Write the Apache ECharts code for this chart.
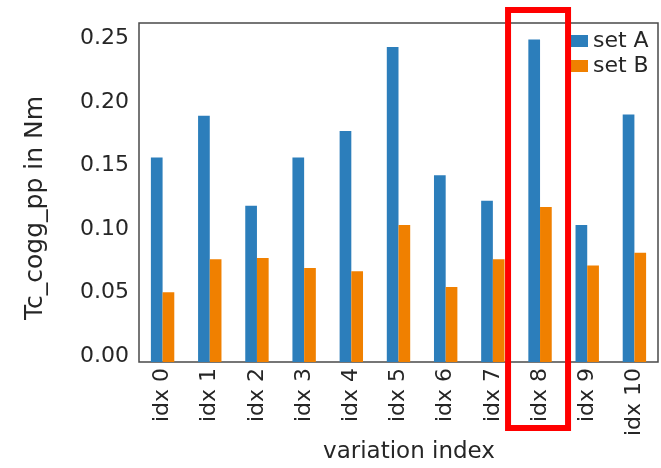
<!DOCTYPE html>
<html>
<head>
<meta charset="utf-8">
<script src="https://cdn.jsdelivr.net/npm/echarts@6/dist/echarts.min.js"></script>
<style>
html,body{margin:0;padding:0;background:#fff;}
#main{width:661px;height:468px;}
</style>
</head>
<body>
<div id="main"></div>
<script>
var categories = ['idx 0','idx 1','idx 2','idx 3','idx 4','idx 5','idx 6','idx 7','idx 8','idx 9','idx 10'];
var setA = [0.161, 0.194, 0.123, 0.161, 0.182, 0.248, 0.147, 0.127, 0.254, 0.108, 0.195];
var setB = [0.055, 0.081, 0.082, 0.074, 0.0715, 0.108, 0.059, 0.081, 0.122, 0.076, 0.086];
var seriesNames = ['set A', 'set B'];
var highlightCategory = 'idx 8';

var FONT = 'DejaVu Sans';
var TXT = '#262626';
var chart = echarts.init(document.getElementById('main'), null, {renderer: 'canvas'});
var option = {
  animation: false,
  backgroundColor: '#ffffff',
  textStyle: {fontFamily: FONT},
  grid: {left: 139, right: 3, top: 23, bottom: 106, show: true, borderColor: '#4a4a4a', borderWidth: 1.5, backgroundColor: 'transparent'},
  legend: {
    data: seriesNames,
    orient: 'vertical',
    left: 570, top: 30, padding: 0,
    itemWidth: 18, itemHeight: 12, itemGap: 3,
    icon: 'rect',
    textStyle: {fontFamily: FONT, fontSize: 22, color: TXT}
  },
  xAxis: {
    type: 'category',
    data: categories,
    axisLine: {show: false},
    axisTick: {show: false},
    axisLabel: {rotate: 90, fontSize: 22, color: TXT, margin: 6, fontFamily: FONT, interval: 0}
  },
  yAxis: {
    type: 'value',
    min: 0, max: 0.267, interval: 0.05,
    splitLine: {show: false},
    axisLine: {show: false},
    axisTick: {show: false},
    axisLabel: {fontSize: 22, color: TXT, margin: 10, fontFamily: FONT,
      verticalAlign: 'bottom', lineHeight: 12,
      formatter: function (v) { return v.toFixed(2); }}
  },
  series: [
    {name: seriesNames[0], type: 'bar', data: setA, barWidth: 11.7, barGap: '0%', itemStyle: {color: '#2c7ebb'}},
    {name: seriesNames[1], type: 'bar', data: setB, barWidth: 11.7, barGap: '0%', itemStyle: {color: '#f08000'}}
  ]
};
chart.setOption(option);

var cx = chart.convertToPixel({xAxisIndex: 0}, highlightCategory);
chart.setOption({
  graphic: [
    {type: 'text', x: 35, y: 208, rotation: Math.PI / 2,
     style: {text: 'Tc_cogg_pp in Nm', fontFamily: FONT, fontSize: 25, fill: TXT, align: 'center', verticalAlign: 'middle'}},
    {type: 'text', x: 409, y: 452,
     style: {text: 'variation index', fontFamily: FONT, fontSize: 23, fill: TXT, align: 'center', verticalAlign: 'middle'}},
    {type: 'rect', shape: {x: cx - 32, y: 10, width: 60, height: 418},
     style: {fill: 'none', stroke: '#ff0000', lineWidth: 6}, z: 100}
  ]
});
</script>
</body>
</html>
